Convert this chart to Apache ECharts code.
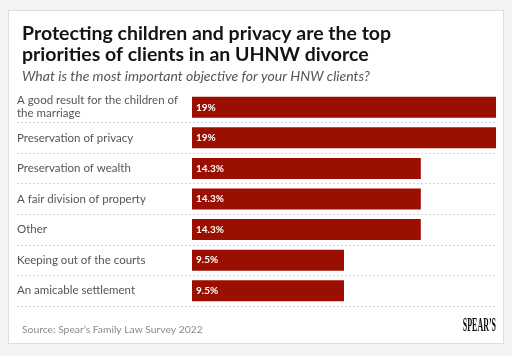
<!DOCTYPE html>
<html><head><meta charset="utf-8">
<script src="https://cdn.jsdelivr.net/npm/echarts@6/dist/echarts.min.js"></script>
<style>
html,body{margin:0;padding:0;background:#f3f3f3;}
#card{position:absolute;left:8px;top:10px;width:496px;height:334px;background:#fff;border:1px solid #dedede;box-sizing:border-box;}
#c{position:absolute;left:0;top:0;width:512px;height:356px;}
</style></head>
<body><div id="card"></div><div id="c"></div>
<script>
const categories = [
  "A good result for the children of the marriage",
  "Preservation of privacy",
  "Preservation of wealth",
  "A fair division of property",
  "Other",
  "Keeping out of the courts",
  "An amicable settlement"
];
const values = [19, 19, 14.3, 14.3, 14.3, 9.5, 9.5];
const valueLabels = ["19%", "19%", "14.3%", "14.3%", "14.3%", "9.5%", "9.5%"];
const titleText = "Protecting children and privacy are the top\npriorities of clients in an UHNW divorce";
const subtitleText = "What is the most important objective for your HNW clients?";
const sourceText = "Source: Spear\u2019s Family Law Survey 2022";

const chart = echarts.init(document.getElementById('c'), null, {renderer:'canvas'});
const gridTop = 92, gridH = 214;
const font = 'Lato, "Open Sans", sans-serif';
chart.setOption({
  backgroundColor: 'transparent',
  animation: false,
  title: [
    {text: titleText, left: 17, top: 18, textStyle:{fontFamily: font, fontSize: 19.5, fontWeight: 'bold', color:'#141414', lineHeight: 21}},
    {text: subtitleText, left: 17, top: 64, textStyle:{fontFamily: font, fontSize: 14, fontStyle:'italic', fontWeight:'normal', color:'#555'}},
    {text: sourceText, left: 17, top: 320, textStyle:{fontFamily: font, fontSize: 10.3, fontWeight:'normal', color:'#8a8a8a'}}
  ],
  graphic: [{
    type:'text', right: 16, top: 317, scaleX: 0.42,
    style:{text:'SPEAR\u2019S', font:'bold 19px "Liberation Serif", serif', fill:'#111'}
  }],
  grid: [
    {left: 17, right: 16, top: gridTop, height: gridH},
    {left: 192, right: 16, top: gridTop, height: gridH}
  ],
  xAxis: [
    {gridIndex:0, type:'value', min:0, max:19, show:false},
    {gridIndex:1, type:'value', min:0, max:19, show:false}
  ],
  yAxis: [
    {gridIndex:0, type:'category', data: categories, inverse:true,
     axisLine:{show:false}, axisTick:{show:false}, axisLabel:{show:false},
     splitLine:{show:true, interval: function(i){ return i > 0 && i < categories.length; }, lineStyle:{type:[2,2], color:'#d6d6d6', width:1}}},
    {gridIndex:1, type:'category', data: categories, inverse:true,
     axisLine:{show:false}, axisTick:{show:false}, splitLine:{show:false},
     axisLabel:{margin:175, align:'left', width:172, overflow:'break', fontFamily: font, fontSize:11.5, color:'#555', lineHeight:13}}
  ],
  series: [{
    type:'bar', xAxisIndex:1, yAxisIndex:1, data: values, barWidth: 21,
    itemStyle:{color:'#9a0f00'},
    label:{show:true, position:'insideLeft', distance:4, formatter: p => valueLabels[p.dataIndex],
      fontFamily: font, fontSize:10, fontWeight:'bold', color:'#fff'}
  }]
});
</script></body></html>
